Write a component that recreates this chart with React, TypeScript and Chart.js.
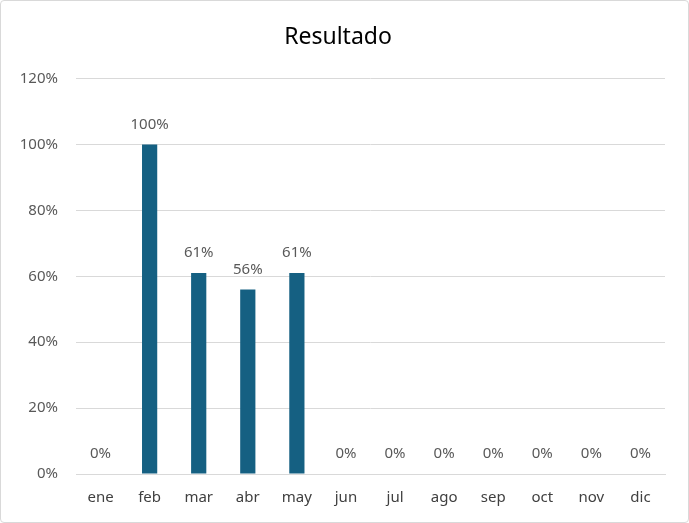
import React, { useEffect, useRef } from "react";
import { Chart, registerables } from "chart.js";

Chart.register(...registerables);

const categories = ["ene", "feb", "mar", "abr", "may", "jun", "jul", "ago", "sep", "oct", "nov", "dic"];
const values = [0, 1.0, 0.61, 0.56, 0.61, 0, 0, 0, 0, 0, 0, 0];
const titleText = "Resultado";

const FONT = "'Noto Sans', 'Liberation Sans', sans-serif";

const dataLabels = {
  id: "dataLabels",
  afterDatasetsDraw(chart: any) {
    const ctx = chart.ctx;
    const meta = chart.getDatasetMeta(0);
    ctx.save();
    ctx.fillStyle = "#595959";
    ctx.font = `15px ${FONT}`;
    ctx.textAlign = "center";
    ctx.textBaseline = "middle";
    meta.data.forEach((bar: any, i: number) => {
      const v = values[i];
      ctx.fillText(`${Math.round(v * 100)}%`, bar.x, bar.y - 20);
    });
    ctx.restore();
  },
};

export default function App() {
  const ref = useRef<HTMLCanvasElement | null>(null);
  useEffect(() => {
    if (!ref.current) return;
    const chart = new Chart(ref.current, {
      type: "bar",
      data: {
        labels: categories,
        datasets: [
          {
            data: values,
            backgroundColor: "#156082",
            barPercentage: 0.62,
            categoryPercentage: 0.5,
          },
        ],
      },
      options: {
        animation: false,
        responsive: false,
        maintainAspectRatio: false,
        layout: { padding: { top: 20, right: 23, bottom: 1, left: 10 } },
        plugins: {
          legend: { display: false },
          tooltip: { enabled: false },
          title: {
            display: true,
            text: titleText,
            color: "#000000",
            font: { family: FONT, size: 23, weight: "normal" },
            padding: { top: 3, bottom: 27 },
          },
        },
        scales: {
          x: {
            grid: { display: false, drawTicks: false },
            border: { display: true, color: "#d9d9d9", width: 1 },
            ticks: { color: "#404040", font: { family: FONT, size: 15, lineHeight: 1.0 }, padding: 16 },
          },
          y: {
            min: 0,
            max: 1.2,
            afterFit: (s: any) => { s.width = 65; },
            grid: { color: "#d9d9d9", lineWidth: 1, drawTicks: false },
            border: { display: false },
            ticks: {
              stepSize: 0.2,
              padding: 18,
              color: "#595959",
              font: { family: FONT, size: 15 },
              callback: (v: any) => `${Math.round(Number(v) * 100)}%`,
            },
          },
        },
      },
      plugins: [dataLabels],
    });
    return () => chart.destroy();
  }, []);
  return (
    <div
      style={{
        position: "absolute",
        left: 0,
        top: 0,
        width: 689,
        height: 523,
        boxSizing: "border-box",
        border: "1px solid #d9d9d9",
        borderRadius: 4,
        background: "#ffffff",
        overflow: "hidden",
      }}
    >
      <canvas ref={ref} width={687} height={521} style={{ display: "block" }} />
    </div>
  );
}
